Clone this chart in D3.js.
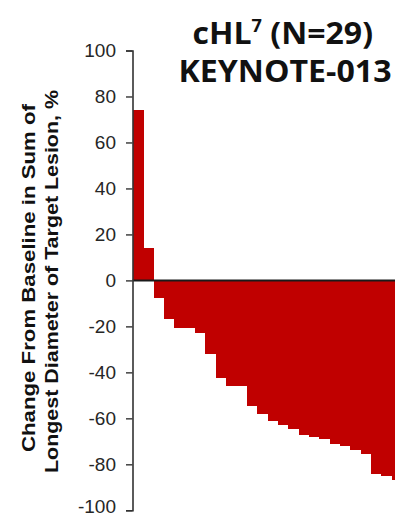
<!DOCTYPE html>
<html>
<head>
<meta charset="utf-8">
<script src="https://cdn.jsdelivr.net/npm/d3@7"></script>
<style>
  html, body { margin: 0; padding: 0; background: #fff; }
  svg { display: block; }
</style>
</head>
<body>
<svg id="chart" width="395" height="516"></svg>
<script>
// Best percent change in target lesion size, one bar per patient, sorted high to low
const patients = d3.range(1, 27).map(i => "P" + i);
const changePct = [74, 14, -7.5, -17, -20.7, -20.7, -23, -32, -42.3, -46, -46,
  -54.6, -58, -61.2, -63, -64.5, -67.1, -68.1, -68.8, -71, -72.2, -73.9, -75.4,
  -84.1, -85.1, -86.7];
const yTicks = [100, 80, 60, 40, 20, 0, -20, -40, -60, -80, -100];
const titleMain = "cHL";
const titleSup = "7";
const titleTail = " (N=29)";
const titleStudy = "KEYNOTE-013";
const yTitleLines = ["Change From Baseline in Sum of", "Longest Diameter of Target Lesion, %"];

const svg = d3.select("#chart");
const axisX = 132.5;
const barW = 10.35;

const x = d3.scaleBand()
  .domain(patients)
  .range([axisX + 0.5, axisX + 0.5 + barW * patients.length])
  .padding(0);

const y = d3.scaleLinear()
  .domain([-100, 100])
  .range([510.3, 50.5]);

// bars, drawn edge to edge without seams
svg.append("g")
  .attr("shape-rendering", "crispEdges")
  .selectAll("rect")
  .data(changePct)
  .join("rect")
  .attr("x", (d, i) => x(patients[i]))
  .attr("width", x.bandwidth() + 0.6)
  .attr("y", d => y(Math.max(0, d)))
  .attr("height", d => Math.abs(y(d) - y(0)))
  .attr("fill", "#C00000");

// zero baseline
svg.append("line")
  .attr("x1", axisX).attr("x2", 395)
  .attr("y1", y(0)).attr("y2", y(0))
  .attr("stroke", "#1a1a1a")
  .attr("stroke-width", 2);

// y axis
const yAxis = d3.axisLeft(y)
  .tickValues(yTicks)
  .tickFormat(d => String(d))
  .tickSize(6.5)
  .tickPadding(10);

const gy = svg.append("g")
  .attr("transform", `translate(${axisX},0)`)
  .call(yAxis);
gy.select(".domain")
  .attr("stroke", "#333")
  .attr("stroke-width", 1.6);
gy.selectAll(".tick line")
  .attr("stroke", "#333")
  .attr("stroke-width", 1.4);
gy.selectAll(".tick text")
  .attr("fill", "#262626")
  .attr("font-family", "'Liberation Sans', Arial, sans-serif")
  .attr("font-size", 19)
  // lowest label is lifted a little so it stays inside the frame
  .attr("dy", d => d === -100 ? "0.1em" : "0.3em");

// y axis title, two lines
const yTitle = svg.append("g")
  .attr("font-family", "'Liberation Sans', Arial, sans-serif")
  .attr("font-weight", "bold")
  .attr("font-size", 18)
  .attr("fill", "#111");
yTitle.append("text")
  .attr("transform", "translate(35,278) rotate(-90)")
  .attr("text-anchor", "middle")
  .attr("textLength", 348)
  .attr("lengthAdjust", "spacingAndGlyphs")
  .text(yTitleLines[0]);
yTitle.append("text")
  .attr("transform", "translate(58,281.5) rotate(-90)")
  .attr("text-anchor", "middle")
  .attr("textLength", 383)
  .attr("lengthAdjust", "spacingAndGlyphs")
  .text(yTitleLines[1]);

// chart title
const title = svg.append("g")
  .attr("font-family", "'Open Sans', Lato, sans-serif")
  .attr("font-weight", "bold")
  .attr("fill", "#111");
const t1 = title.append("text")
  .attr("x", 192.5)
  .attr("y", 43.5)
  .attr("font-size", 30)
  .attr("textLength", 180.5)
  .attr("lengthAdjust", "spacingAndGlyphs");
t1.append("tspan").text(titleMain);
t1.append("tspan").attr("font-size", 17).attr("dy", -12).text(titleSup);
t1.append("tspan").attr("dy", 12).text(titleTail);
title.append("text")
  .attr("x", 178.5)
  .attr("y", 81.5)
  .attr("font-size", 30)
  .attr("textLength", 213)
  .attr("lengthAdjust", "spacingAndGlyphs")
  .text(titleStudy);
</script>
</body>
</html>
